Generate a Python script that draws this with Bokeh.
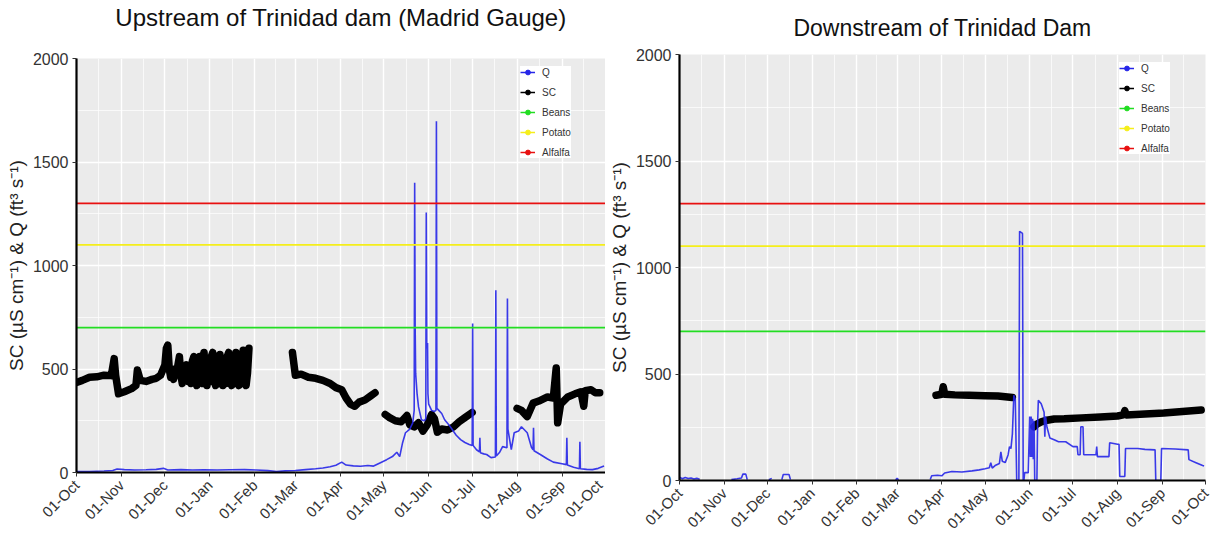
import math
import numpy as np
import pandas as pd
from bokeh.plotting import figure
from bokeh.layouts import row, column
from bokeh.models import (Range1d, FixedTicker, DatetimeTickFormatter, Legend, LegendItem,
                          LinearAxis)
from bokeh.embed import file_html
from bokeh.resources import INLINE

# ---------------- data ----------------
month_ticks = ["2016-10-01", "2016-11-01", "2016-12-01", "2017-01-01", "2017-02-01",
               "2017-03-01", "2017-04-01", "2017-05-01", "2017-06-01", "2017-07-01",
               "2017-08-01", "2017-09-01", "2017-10-01"]
tick_labels = ["01-Oct", "01-Nov", "01-Dec", "01-Jan", "01-Feb", "01-Mar", "01-Apr",
               "01-May", "01-Jun", "01-Jul", "01-Aug", "01-Sep", "01-Oct"]
y_ticks = [0, 500, 1000, 1500, 2000]

beans_limit = 700
potato_limit = 1100
alfalfa_limit = 1300

# Upstream (Madrid gauge) specific conductance, None = gap
up_sc_t = ["2016-10-01", "2016-10-05", "2016-10-10", "2016-10-15", "2016-10-20", "2016-10-25",
           "2016-10-27", "2016-10-28", "2016-10-30", "2016-11-03", "2016-11-08", "2016-11-11",
           "2016-11-12", "2016-11-14", "2016-11-18", "2016-11-22", "2016-11-25", "2016-11-28",
           "2016-12-01", "2016-12-02", "2016-12-03", "2016-12-04", "2016-12-05", "2016-12-06",
           "2016-12-07", "2016-12-08", "2016-12-09", "2016-12-10", "2016-12-11", "2016-12-12",
           "2016-12-13", "2016-12-14", "2016-12-15", "2016-12-16", "2016-12-17", "2016-12-18",
           "2016-12-19", "2016-12-20", "2016-12-21", "2016-12-22", "2016-12-23", "2016-12-24",
           "2016-12-25", "2016-12-26", "2016-12-27", "2016-12-28", "2016-12-29", "2016-12-30",
           "2016-12-31", "2017-01-01", "2017-01-02", "2017-01-03", "2017-01-04", "2017-01-05",
           "2017-01-06", "2017-01-07", "2017-01-08", "2017-01-09", "2017-01-10", "2017-01-11",
           "2017-01-12", "2017-01-13", "2017-01-14", "2017-01-15", "2017-01-16", "2017-01-17",
           "2017-01-18", "2017-01-19", "2017-01-20", "2017-01-21", "2017-01-22", "2017-01-23",
           "2017-01-24", "2017-01-25", "2017-01-26", "2017-01-27", "2017-01-28",
           "2017-02-12",
           "2017-02-27", "2017-03-01", "2017-03-05", "2017-03-10", "2017-03-15", "2017-03-20",
           "2017-03-25", "2017-03-29", "2017-04-02", "2017-04-05", "2017-04-08", "2017-04-11",
           "2017-04-14", "2017-04-18", "2017-04-22", "2017-04-25",
           "2017-04-28",
           "2017-05-02", "2017-05-05", "2017-05-09", "2017-05-13", "2017-05-17", "2017-05-19",
           "2017-05-22", "2017-05-25", "2017-05-28", "2017-05-31", "2017-06-03", "2017-06-05",
           "2017-06-07", "2017-06-10", "2017-06-14", "2017-06-18", "2017-06-22", "2017-06-26",
           "2017-07-01",
           "2017-07-15",
           "2017-08-01", "2017-08-04", "2017-08-08", "2017-08-12", "2017-08-16", "2017-08-22",
           "2017-08-26", "2017-08-28", "2017-08-29", "2017-08-31", "2017-09-05", "2017-09-10",
           "2017-09-14", "2017-09-16", "2017-09-17", "2017-09-21", "2017-09-24", "2017-09-27"]
up_sc_v = [435, 445, 460, 462, 470, 468,
           550, 470, 380, 390, 405, 420,
           495, 445, 440, 450, 455, 470,
           520, 600, 615, 500, 460, 490,
           450, 500, 470, 520, 560, 470,
           430, 500, 450, 520, 440, 480,
           430, 540, 560, 450, 420, 500,
           560, 470, 430, 580, 470, 420,
           500, 440, 560, 580, 450, 420,
           510, 430, 570, 470, 420, 480,
           430, 560, 580, 440, 420, 500,
           430, 580, 440, 420, 500, 430,
           590, 460, 420, 480, 600,
           None,
           580, 470, 475, 460, 455, 445,
           430, 410, 400, 360, 330, 320,
           340, 350, 370, 385,
           None,
           280, 265, 250, 245, 275, 230,
           220, 240, 200, 230, 280, 260,
           195, 210, 205, 220, 245, 265,
           290,
           None,
           310, 300, 270, 335, 345, 365,
           360, 505, 240, 330, 365, 380,
           390, 320, 395, 400, 385, 385]

# Upstream discharge
up_q_t = ["2016-10-01", "2016-10-10", "2016-10-20", "2016-10-26", "2016-10-29", "2016-11-03",
          "2016-11-10", "2016-11-18", "2016-11-25", "2016-11-30", "2016-12-03", "2016-12-12",
          "2016-12-20", "2016-12-28", "2017-01-06", "2017-01-15", "2017-01-25", "2017-02-02",
          "2017-02-10", "2017-02-16", "2017-02-22", "2017-03-01", "2017-03-08", "2017-03-15",
          "2017-03-20", "2017-03-25", "2017-03-29", "2017-04-02", "2017-04-05", "2017-04-10",
          "2017-04-15", "2017-04-20", "2017-04-24", "2017-04-28", "2017-05-03", "2017-05-07",
          "2017-05-10", "2017-05-12", "2017-05-14", "2017-05-16", "2017-05-19", "2017-05-21",
          "2017-05-22 00:00", "2017-05-22 08:00", "2017-05-22 16:00", "2017-05-23", "2017-05-24",
          "2017-05-25", "2017-05-27", "2017-05-29", "2017-05-30 00:00", "2017-05-30 08:00",
          "2017-05-30 16:00", "2017-05-31 06:00", "2017-05-31 12:00", "2017-06-01", "2017-06-03",
          "2017-06-05", "2017-06-06 00:00", "2017-06-06 08:00", "2017-06-06 16:00", "2017-06-08",
          "2017-06-10", "2017-06-12", "2017-06-15", "2017-06-17", "2017-06-20", "2017-06-23",
          "2017-06-26", "2017-06-29", "2017-07-01 00:00", "2017-07-01 08:00", "2017-07-01 16:00",
          "2017-07-04", "2017-07-06 00:00", "2017-07-06 08:00", "2017-07-06 16:00", "2017-07-09",
          "2017-07-11", "2017-07-14", "2017-07-17 00:00", "2017-07-17 08:00", "2017-07-17 16:00",
          "2017-07-20", "2017-07-22", "2017-07-25 00:00", "2017-07-25 08:00", "2017-07-25 16:00",
          "2017-07-28", "2017-07-30", "2017-08-02", "2017-08-04", "2017-08-08", "2017-08-11",
          "2017-08-12 00:00", "2017-08-12 08:00", "2017-08-12 16:00", "2017-08-17", "2017-08-22",
          "2017-08-26", "2017-09-01", "2017-09-04 00:00", "2017-09-04 08:00", "2017-09-04 16:00",
          "2017-09-09", "2017-09-13 00:00", "2017-09-13 08:00", "2017-09-13 16:00", "2017-09-18",
          "2017-09-22", "2017-09-26", "2017-09-30"]
up_q_v = [5, 5, 7, 10, 17, 14,
          12, 13, 15, 20, 12, 14,
          12, 13, 12, 13, 14, 12,
          9, 5, 8, 10, 14, 18,
          22, 28, 35, 50, 36, 32,
          30, 34, 31, 45, 62, 77,
          98, 77, 144, 192, 210, 240,
          300, 1400, 700, 480, 380,
          317, 255, 250, 260, 1256,
          600, 625, 380, 330, 300,
          295, 300, 1697, 310, 300,
          285, 255, 230, 210, 180, 159,
          145, 135, 130, 720, 130,
          110, 100, 168, 95, 90,
          87, 72, 75, 880, 80,
          98, 125, 120, 841, 210,
          110, 192, 200, 221, 192, 120,
          110, 216, 105, 87, 65,
          50, 42, 38, 168, 36,
          25, 18, 149, 18, 15,
          14, 20, 31]

# Downstream specific conductance
dn_sc_t = ["2017-03-28", "2017-04-01", "2017-04-02", "2017-04-03", "2017-04-10", "2017-04-20",
           "2017-05-01", "2017-05-10", "2017-05-20",
           "2017-05-28",
           "2017-06-04", "2017-06-06", "2017-06-09", "2017-06-13", "2017-06-18", "2017-06-25",
           "2017-07-07", "2017-07-20", "2017-08-01", "2017-08-05", "2017-08-06", "2017-08-07",
           "2017-08-20", "2017-09-02", "2017-09-15", "2017-09-28"]
dn_sc_v = [400, 405, 440, 405, 402, 400,
           398, 397, 390,
           None,
           252, 265, 275, 283, 289, 290,
           294, 298, 303, 308, 328, 308,
           312, 317, 324, 331]

# Downstream discharge, None = gap
dn_q_t = ["2016-10-01", "2016-10-03", "2016-10-05", "2016-10-07", "2016-10-09", "2016-10-11",
          "2016-10-13", "2016-10-15", "2016-10-25",
          "2016-11-06", "2016-11-10", "2016-11-13", "2016-11-14", "2016-11-16", "2016-11-17",
          "2016-11-25",
          "2016-12-02", "2016-12-04", "2016-12-08",
          "2016-12-11", "2016-12-12", "2016-12-16", "2016-12-17", "2017-01-15",
          "2017-02-28", "2017-03-01", "2017-03-02", "2017-03-15",
          "2017-03-24", "2017-03-25", "2017-03-29", "2017-04-01", "2017-04-03", "2017-04-08",
          "2017-04-15", "2017-04-22", "2017-04-27", "2017-05-01", "2017-05-04", "2017-05-05",
          "2017-05-06", "2017-05-08", "2017-05-11", "2017-05-12", "2017-05-13", "2017-05-15",
          "2017-05-17", "2017-05-18", "2017-05-19", "2017-05-20", "2017-05-21", "2017-05-22",
          "2017-05-23", "2017-05-24 12:00", "2017-05-25", "2017-05-27", "2017-05-27 12:00",
          "2017-05-28", "2017-05-28 12:00", "2017-05-31", "2017-06-01", "2017-06-01 12:00",
          "2017-06-02", "2017-06-02 12:00", "2017-06-03", "2017-06-03 12:00", "2017-06-04",
          "2017-06-04 12:00", "2017-06-06", "2017-06-06 12:00", "2017-06-07", "2017-06-09",
          "2017-06-11", "2017-06-11 12:00", "2017-06-12", "2017-06-13", "2017-06-15",
          "2017-06-18", "2017-06-21", "2017-06-26", "2017-07-01", "2017-07-04",
          "2017-07-04 12:00", "2017-07-06", "2017-07-06 12:00", "2017-07-08", "2017-07-08 12:00",
          "2017-07-17", "2017-07-17 12:00", "2017-07-18", "2017-07-26", "2017-07-26 12:00",
          "2017-08-01", "2017-08-02", "2017-08-02 12:00", "2017-08-06", "2017-08-06 12:00",
          "2017-08-15", "2017-08-20", "2017-08-27", "2017-08-27 12:00", "2017-08-31",
          "2017-08-31 12:00", "2017-09-10", "2017-09-19", "2017-09-19 12:00", "2017-09-24",
          "2017-09-29", "2017-09-30"]
dn_q_v = [15, 8, 14, 9, 12, 7,
          10, 6, None,
          4, 8, 12, 30, 30, 4,
          None,
          4, 10, None,
          4, 28, 28, 4, None,
          3, 10, 3, None,
          5, 22, 25, 22, 35, 42,
          40, 45, 50, 55, 60, 84,
          58, 70, 80, 135, 90, 84,
          120, 159, 150, 219, 400, 380,
          0, 0, 1170, 1160, 0,
          0, 37, 37, 300, 110,
          300, 110, 290, 100, 280,
          0, 0, 270, 377, 360,
          320, 205, 300, 250, 200,
          191, 182, 182, 159, 159,
          121, 121, 252, 252, 121,
          121, 159, 112, 112, 177,
          170, 170, 19, 19, 150,
          150, 146, 144, 0, 0,
          150, 148, 144, 98, 85,
          70, 68]

# ---------------- styling helpers ----------------
Q_COLOR = "#2626E8"
SC_COLOR = "black"
BEANS_COLOR = "#22DD22"
POTATO_COLOR = "#F5EE1A"
ALFALFA_COLOR = "#E81010"
FONT = "Liberation Sans"

tick_dt = pd.to_datetime(month_ticks)
tick_ms = [t.timestamp() * 1000.0 for t in tick_dt]
minor_ms = [(a + b) / 2.0 for a, b in zip(tick_ms[:-1], tick_ms[1:])]


def to_arrays(ts, vs):
    return (pd.to_datetime(ts, format="mixed"),
            np.array([np.nan if v is None else v for v in vs], dtype=float))


def make_panel(title, q_t, q_v, sc_t, sc_v, width, height, borders, title_cfg,
               legend_loc):
    bl, br, bt, bb = borders
    t_size, t_standoff = title_cfg
    p = figure(width=width, height=height, x_axis_type="datetime",
               output_backend="svg", toolbar_location=None,
               x_range=Range1d(tick_dt[0], tick_dt[-1]), y_range=Range1d(0, 2000),
               min_border_left=bl, min_border_right=br, min_border_top=bt,
               min_border_bottom=bb)
    p.background_fill_color = "#EBEBEB"
    p.border_fill_color = "white"
    p.outline_line_color = None
    bx = p.xaxis[0]
    ly = p.yaxis[0]

    # panel title, drawn as the label of a bare axis above the frame
    p.title.text = ""
    p.title.text_font_size = "0px"
    p.title.standoff = 0
    tax = LinearAxis(ticker=FixedTicker(ticks=[]), axis_label=title)
    tax.axis_line_color = None
    tax.major_tick_line_color = None
    tax.minor_tick_line_color = None
    tax.major_tick_out = 0
    tax.major_tick_in = 0
    tax.major_label_standoff = 0
    tax.major_label_text_font_size = "0px"
    tax.axis_label_text_font = FONT
    tax.axis_label_text_font_size = t_size
    tax.axis_label_text_font_style = "normal"
    tax.axis_label_text_color = "#111111"
    tax.axis_label_standoff = t_standoff
    p.add_layout(tax, "above")

    p.xgrid.ticker = FixedTicker(ticks=tick_ms, minor_ticks=minor_ms)
    p.ygrid.ticker = FixedTicker(ticks=y_ticks, minor_ticks=[250, 750, 1250, 1750])
    for g in (p.xgrid, p.ygrid):
        g.grid_line_color = "white"
        g.grid_line_width = 1.4
        g.minor_grid_line_color = "white"
        g.minor_grid_line_width = 0.7

    sct, scv = to_arrays(sc_t, sc_v)
    qt, qv = to_arrays(q_t, q_v)
    p.line(sct, scv, line_color=SC_COLOR, line_width=7.5, line_join="round", line_cap="round")
    p.line(qt, qv, line_color=Q_COLOR, line_width=1.6, line_alpha=0.9)

    xs = [tick_dt[0], tick_dt[-1]]
    for lim, col in ((beans_limit, BEANS_COLOR), (potato_limit, POTATO_COLOR),
                     (alfalfa_limit, ALFALFA_COLOR)):
        p.line(xs, [lim, lim], line_color=col, line_width=1.8)

    items = []
    for lab, col in (("Q", Q_COLOR), ("SC", SC_COLOR), ("Beans", BEANS_COLOR),
                     ("Potato", POTATO_COLOR), ("Alfalfa", ALFALFA_COLOR)):
        rl = p.line([tick_dt[0]], [np.nan], line_color=col, line_width=1.5)
        rs = p.scatter([tick_dt[0]], [np.nan], fill_color=col, line_color=col, size=4)
        items.append(LegendItem(label=lab, renderers=[rl, rs]))
    leg = Legend(items=items, location=legend_loc)
    leg.background_fill_color = "white"
    leg.background_fill_alpha = 1.0
    leg.border_line_color = None
    leg.label_text_font = FONT
    leg.label_text_font_size = "10px"
    leg.label_text_color = "#333333"
    leg.glyph_width = 15
    leg.glyph_height = 12
    leg.label_height = 12
    leg.spacing = 8
    leg.padding = 4
    leg.label_standoff = 7
    leg.margin = 0
    p.add_layout(leg)

    bx.ticker = FixedTicker(ticks=tick_ms)
    fmt = "%d-%b"
    bx.formatter = DatetimeTickFormatter(days=fmt, months=fmt, years=fmt, hours=fmt,
                                         hourmin=fmt, minutes=fmt, minsec=fmt,
                                         seconds=fmt, milliseconds=fmt,
                                         microseconds=fmt)
    bx.major_label_orientation = math.pi / 4
    bx.major_label_text_font_size = "15px"
    bx.major_label_standoff = 6
    ly.ticker = FixedTicker(ticks=y_ticks)
    ly.major_label_text_font_size = "16px"
    ly.major_label_standoff = 4
    ly.axis_label = "SC (\u00b5S cm\u207b\u00b9) & Q (ft\u00b3 s\u207b\u00b9)"
    ly.axis_label_text_font = FONT
    ly.axis_label_text_font_size = "19px"
    ly.axis_label_text_font_style = "normal"
    ly.axis_label_text_color = "#222222"
    ly.axis_label_standoff = 3
    for ax in (bx, ly):
        ax.major_label_text_font = FONT
        ax.major_label_text_color = "#333333"
        ax.axis_line_color = "black"
        ax.axis_line_width = 2.2
        ax.major_tick_line_color = "#333333"
        ax.major_tick_line_width = 1
        ax.major_tick_out = 4
        ax.major_tick_in = 0
        ax.minor_tick_line_color = None
    return p


p1 = make_panel("Upstream of Trinidad dam (Madrid Gauge)", up_q_t, up_q_v, up_sc_t, up_sc_v,
                605, 546, (76, 0, 58, 74), ("24px", 28), (444, 314))
p2 = make_panel("Downstream of Trinidad Dam", dn_q_t, dn_q_v, dn_sc_t, dn_sc_v,
                610, 546, (70, 10, 54, 66), ("23px", 14), (440, 326))

layout = row(column(p1), column(p2))
open("out.html", "w").write(file_html(layout, INLINE))
